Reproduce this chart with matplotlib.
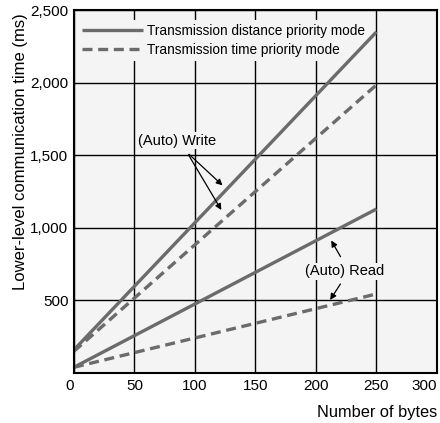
import matplotlib.pyplot as plt

plt.rcParams['font.family'] = ['Liberation Sans', 'DejaVu Sans']

nbytes = [0, 250]
write_distance = [160, 2350]
write_time = [150, 1985]
read_distance = [40, 1130]
read_time = [40, 545]

xticks = [0, 50, 100, 150, 200, 250, 300]
yticks = [500, 1000, 1500, 2000, 2500]
ytick_labels = ["500", "1,000", "1,500", "2,000", "2,500"]

lineColor = "#6b6b6b"
bg = "#f4f4f4"
dashed = (0, (3.0, 1.7))

fig = plt.figure(figsize=(4.4, 4.23), dpi=100)
ax = fig.add_axes([0.168, 0.118, 0.825, 0.858])
ax.set_facecolor(bg)

ax.plot(nbytes, write_distance, color=lineColor, lw=2.4, solid_capstyle="butt",
        label="Transmission distance priority mode", zorder=3)
ax.plot(nbytes, write_time, color=lineColor, lw=2.4, ls=dashed,
        label="Transmission time priority mode", zorder=3)
ax.plot(nbytes, read_distance, color=lineColor, lw=2.4, solid_capstyle="butt", zorder=3)
ax.plot(nbytes, read_time, color=lineColor, lw=2.4, ls=dashed, zorder=3)

ax.set_xlim(0, 300)
ax.set_ylim(0, 2500)
ax.set_xticks(xticks)
ax.set_yticks(yticks)
ax.set_yticklabels(ytick_labels)
ax.tick_params(length=0, labelsize=11, pad=4)
labels = ax.get_xticklabels()
labels[0].set_horizontalalignment("right")
labels[-1].set_horizontalalignment("right")
ax.grid(True, color="black", lw=1)
ax.set_axisbelow(True)
for s in ax.spines.values():
    s.set_linewidth(1.5)
    s.set_zorder(4)

leg = ax.legend(loc="upper left", bbox_to_anchor=(0.0, 0.985), frameon=True,
                fontsize=9.8, handlelength=4.5, borderaxespad=0.3,
                handletextpad=0.3, labelspacing=0.4, borderpad=0.3,
                fancybox=False)
leg.get_frame().set_facecolor(bg)
leg.get_frame().set_edgecolor("none")
leg.get_frame().set_alpha(1)
leg.set_zorder(2)

arrowStyle = dict(arrowstyle="-|>", color="black", lw=0.9, mutation_scale=9)
textBox = dict(facecolor=bg, edgecolor="none", pad=1)
ax.text(85, 1600, "(Auto) Write", fontsize=10.5, ha="center", va="center", bbox=textBox, zorder=4)
ax.annotate("", xy=(124.5, 1280), xytext=(93.5, 1520), arrowprops=arrowStyle, zorder=4)
ax.annotate("", xy=(123, 1107), xytext=(93.5, 1520), arrowprops=arrowStyle, zorder=4)
ax.text(224, 702, "(Auto) Read", fontsize=10.5, ha="center", va="center", bbox=textBox, zorder=4)
ax.annotate("", xy=(211.5, 930), xytext=(221.5, 785), arrowprops=arrowStyle, zorder=4)
ax.annotate("", xy=(210.5, 488), xytext=(221.5, 630), arrowprops=arrowStyle, zorder=4)

ax.set_ylabel("Lower-level communication time (ms)", fontsize=12)
ax.yaxis.set_label_coords(-0.127, 0.609)
fig.text(0.993, 0.026, "Number of bytes", fontsize=11.8, ha="right", va="center")

fig.savefig("out.png", dpi=100)
